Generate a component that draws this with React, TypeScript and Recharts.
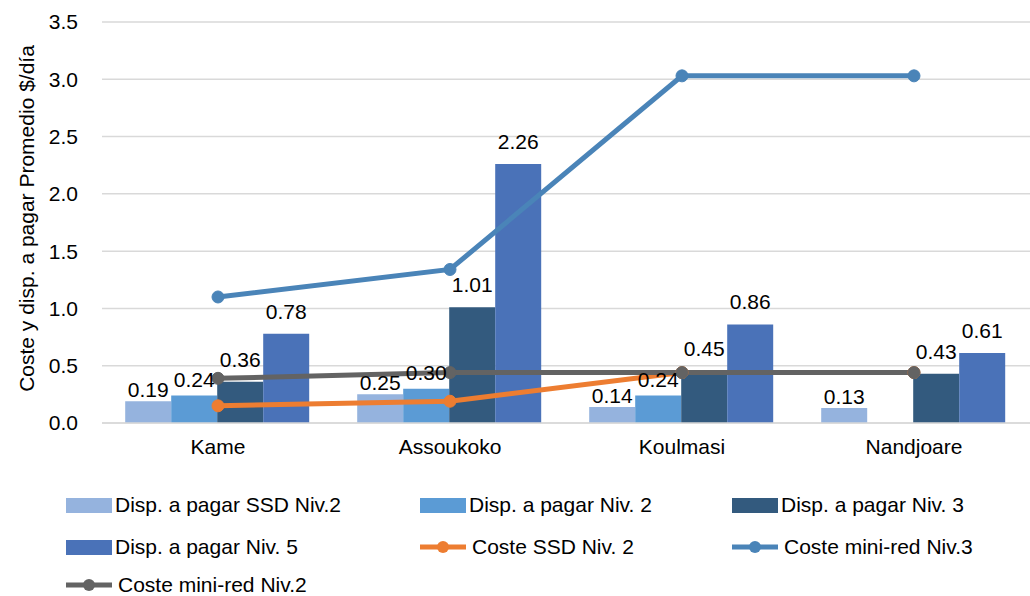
import React from "react";
import { ComposedChart, Bar, Line, XAxis, YAxis, CartesianGrid, Legend, LabelList, Label } from "recharts";

const categories = ["Kame", "Assoukoko", "Koulmasi", "Nandjoare"];
const dispSsdN2 = [0.19, 0.25, 0.14, 0.13];
const dispN2 = [0.24, 0.3, 0.24, null];
const dispN3 = [0.36, 1.01, 0.45, 0.43];
const dispN5 = [0.78, 2.26, 0.86, 0.61];
const costeSsdN2 = [0.15, 0.19, 0.44, 0.44];
const costeMiniN3 = [1.1, 1.34, 3.03, 3.03];
const costeMiniN2 = [0.39, 0.44, 0.44, 0.44];
const yTicks = [0, 0.5, 1, 1.5, 2, 2.5, 3, 3.5];

const FONT = "'Liberation Sans', Arial, sans-serif";

const data = categories.map((name, i) => ({
    name,
    ssdN2: dispSsdN2[i],
    n2: dispN2[i],
    n3: dispN3[i],
    n5: dispN5[i],
    cSsd: costeSsdN2[i],
    cN3: costeMiniN3[i],
    cN2: costeMiniN2[i],
}));

const bars = [
    { key: "ssdN2", name: "Disp. a pagar SSD Niv.2", color: "#95b3de", off: 4 },
    { key: "n2", name: "Disp. a pagar Niv. 2", color: "#5b9bd5", off: 9 },
    { key: "n3", name: "Disp. a pagar Niv. 3", color: "#335a7e", off: 15 },
    { key: "n5", name: "Disp. a pagar Niv. 5", color: "#4a72b8", off: 15 },
];
const lines = [
    { key: "cSsd", name: "Coste SSD Niv. 2", color: "#ed7d31" },
    { key: "cN3", name: "Coste mini-red Niv.3", color: "#4a84b8" },
    { key: "cN2", name: "Coste mini-red Niv.2", color: "#636363" },
];

const legendItems = [
    ...bars.map((b) => ({ name: b.name, color: b.color, kind: "bar" })),
    ...lines.map((l) => ({ name: l.name, color: l.color, kind: "line" })),
];
const colX = [66, 420, 732];
const rowY = [25, 67, 105];

function LegendBox() {
    return (
        <div style={{ position: "relative", width: 1030, height: 116, fontFamily: FONT, fontSize: 21, color: "#000" }}>
            {legendItems.map((it, i) => {
                const x = colX[i % 3];
                const y = rowY[Math.floor(i / 3)];
                return (
                    <div key={it.name} style={{ position: "absolute", left: x, top: y - 14, height: 28, display: "flex", alignItems: "center", whiteSpace: "nowrap" }}>
                        <svg width={48} height={28} style={{ marginRight: it.kind === "bar" ? 1 : 4 }}>
                            {it.kind === "bar" ? (
                                <rect x={0} y={7} width={46} height={15} fill={it.color} />
                            ) : (
                                <g>
                                    <line x1={0} y1={14} x2={46} y2={14} stroke={it.color} strokeWidth={5} />
                                    <circle cx={23} cy={14} r={6} fill={it.color} />
                                </g>
                            )}
                        </svg>
                        <span>{it.name}</span>
                    </div>
                );
            })}
        </div>
    );
}

function YTitle(props: any) {
    const vb = props.viewBox || { y: 22, height: 401 };
    const cx = 26;
    const cy = vb.y + vb.height / 2 - 4;
    return (
        <text x={cx} y={cy} transform={`rotate(-90, ${cx}, ${cy})`} textAnchor="middle" dominantBaseline="central" fontFamily={FONT} fontSize={21} fill="#000">
            Coste y disp. a pagar Promedio $/día
        </text>
    );
}

export default function App() {
    return (
        <div style={{ position: "absolute", left: 0, top: 0, width: 1030, height: 596, background: "#fff" }}>
            <ComposedChart width={1030} height={596} data={data} margin={{ top: 22, right: 0, left: 0, bottom: 0 }} barCategoryGap="10%" barGap={0}>
                <CartesianGrid vertical={false} stroke="#d9d9d9" strokeWidth={1.5} />
                <XAxis dataKey="name" axisLine={{ stroke: "#d9d9d9", strokeWidth: 1.5 }} tickLine={false} tick={{ fill: "#000", fontSize: 21, fontFamily: FONT }} tickMargin={10} height={57} />
                <YAxis domain={[0, 3.5]} ticks={yTicks} tickFormatter={(v: number) => v.toFixed(1)} axisLine={false} tickLine={false} width={102} tickMargin={18} tick={{ fill: "#000", fontSize: 21, fontFamily: FONT }}>
                    <Label content={<YTitle />} />
                </YAxis>
                {bars.map((b) => (
                    <Bar key={b.key} dataKey={b.key} name={b.name} fill={b.color} isAnimationActive={false}>
                        <LabelList dataKey={b.key} position="top" offset={b.off} formatter={(v: any) => (v == null ? "" : Number(v).toFixed(2))} style={{ fill: "#000", fontSize: 21, fontFamily: FONT }} />
                    </Bar>
                ))}
                {lines.map((l) => (
                    <Line key={l.key} dataKey={l.key} name={l.name} stroke={l.color} strokeWidth={5} dot={{ r: 6, fill: l.color, stroke: l.color, strokeWidth: 1 }} activeDot={false} isAnimationActive={false} />
                ))}
                <Legend verticalAlign="bottom" height={116} content={<LegendBox />} wrapperStyle={{ left: 0, bottom: 0, width: 1030, height: 116 }} />
            </ComposedChart>
        </div>
    );
}
